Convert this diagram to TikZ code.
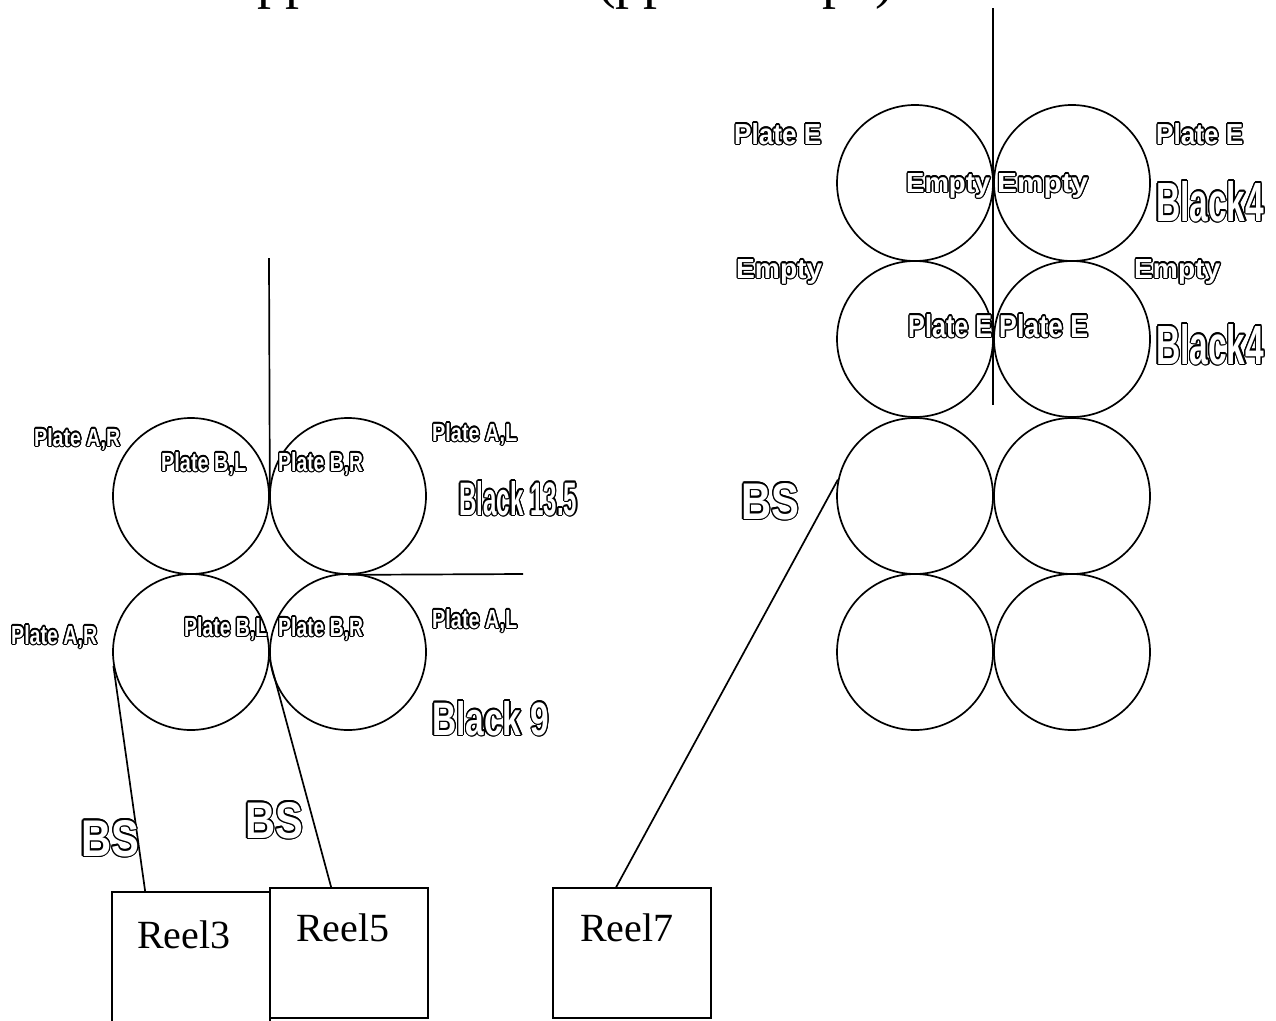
\documentclass[tikz,border=0pt]{standalone}
\usepackage{fontspec}
\usepackage{graphicx}
\usepackage{contour}
\setmainfont{Liberation Serif}
\newfontfamily\lblfont{Liberation Sans}
\contourlength{1.3pt}
\newcommand\olab[3]{{\color{white}\contour{black}{\resizebox{#1pt}{#2pt}{\lblfont\bfseries #3}}}}
\tikzset{
  roll/.style={draw, circle, line width=1.7pt, minimum size=156pt, inner sep=0pt},
  reel/.style={draw, rectangle, line width=1.7pt, minimum width=158pt, inner sep=0pt},
  lbl/.style={anchor=base west, inner sep=0pt},
  reeltext/.style={anchor=base west, inner sep=0pt, font=\fontsize{40pt}{44pt}\selectfont},
  toptext/.style={anchor=base west, inner sep=0pt, font=\fontsize{56pt}{60pt}\selectfont},
  conn/.style={line width=1.7pt}
}
\begin{document}
\begin{tikzpicture}[x=1pt, y=-1pt]
\useasboundingbox (0,0) rectangle (1276,1020);
\clip (0,0) rectangle (1276,1020);
\fill[white] (0,0) rectangle (1276,1020);

% clipped title fragments at the top edge
\node[toptext] (t1) at (257,-3) {pp};
\node[toptext] (t2) at (597,-3) {(pp};
\node[toptext] (t3) at (822,-3) {pe)};

% left group rolls
\node[roll] (L11) at (191,496) {};
\node[roll] (L12) at (348,496) {};
\node[roll] (L21) at (191,652) {};
\node[roll] (L22) at (348,652) {};

% right group rolls
\node[roll] (R11) at (915,183) {};
\node[roll] (R12) at (1072,183) {};
\node[roll] (R21) at (915,339) {};
\node[roll] (R22) at (1072,339) {};
\node[roll] (R31) at (915,496) {};
\node[roll] (R32) at (1072,496) {};
\node[roll] (R41) at (915,652) {};
\node[roll] (R42) at (1072,652) {};

% reels
\node[reel, minimum height=170pt] (reel3) at (191,977) {};
\node[reel, minimum height=130pt] (reel5) at (349,953) {};
\node[reel, minimum height=130pt] (reel7) at (632,953) {};
\node[reeltext] (r3t) at (137,948) {Reel3};
\node[reeltext] (r5t) at (296,941) {Reel5};
\node[reeltext] (r7t) at (580,941) {Reel7};

% web paths
\coordinate (ltop) at (269,258);
\coordinate (hend) at (523,574);
\coordinate (rtop) at (993,8);
\coordinate (rbot) at (993,405);
\draw[conn] (ltop) -- (L11.east);
\draw[conn] (L12.south) -- (hend);
\draw[conn] (rtop) -- (rbot);
\draw[conn] (L21.190) -- ([xshift=34pt]reel3.north west);
\draw[conn] (L22.185) -- ([xshift=62pt]reel5.north west);
\draw[conn] (R31.168) -- ([xshift=64pt]reel7.north west);

% left group labels
\node[lbl] (a1) at (34,446) {\olab{86}{18}{Plate A,R}};
\node[lbl] (a2) at (161,471) {\olab{85}{19}{Plate B,L}};
\node[lbl] (a3) at (278,471) {\olab{85}{19}{Plate B,R}};
\node[lbl] (a4) at (432,441) {\olab{85}{18}{Plate A,L}};
\node[lbl] (a5) at (459,515) {\olab{118}{34}{Black 13.5}};
\node[lbl] (b1) at (11,644) {\olab{86}{19}{Plate A,R}};
\node[lbl] (b2) at (184,636) {\olab{83}{19}{Plate B,L}};
\node[lbl] (b3) at (278,636) {\olab{85}{19}{Plate B,R}};
\node[lbl] (b4) at (432,628) {\olab{85}{19}{Plate A,L}};
\node[lbl] (b5) at (432,735) {\olab{117}{34}{Black 9}};
\node[lbl] (bs1) at (81,856) {\olab{58}{36}{BS}};
\node[lbl] (bs2) at (245,838) {\olab{58}{36}{BS}};

% right group labels
\node[lbl] (c1) at (734,144) {\olab{87}{21}{Plate E}};
\node[lbl] (c2) at (1156,144) {\olab{87}{21}{Plate E}};
\node[lbl] (c3) at (906,192) {\olab{84}{19}{Empty}};
\node[lbl] (c4) at (997,192) {\olab{91}{19}{Empty}};
\node[lbl] (c5) at (1156,221) {\olab{108}{40}{Black4}};
\node[lbl] (d1) at (736,278) {\olab{86}{19}{Empty}};
\node[lbl] (d2) at (1134,278) {\olab{86}{19}{Empty}};
\node[lbl] (d3) at (908,337) {\olab{84}{23}{Plate E}};
\node[lbl] (d4) at (999,337) {\olab{89}{23}{Plate E}};
\node[lbl] (d5) at (1156,364) {\olab{108}{40}{Black4}};
\node[lbl] (bs3) at (741,519) {\olab{58}{36}{BS}};
\end{tikzpicture}
\end{document}
